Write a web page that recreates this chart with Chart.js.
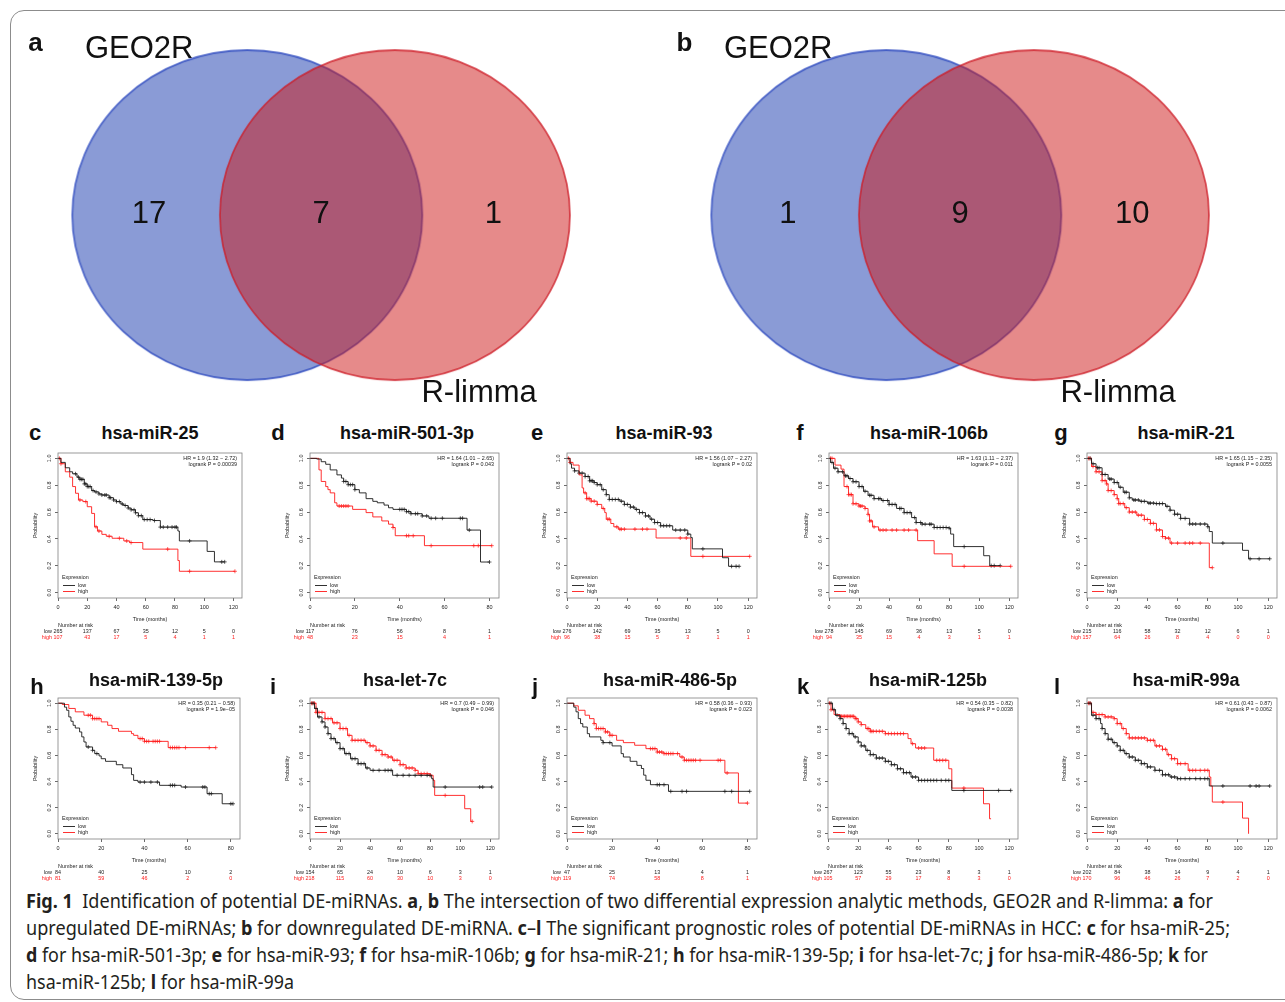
<!DOCTYPE html>
<html>
<head>
<meta charset="utf-8">
<script src="https://cdn.jsdelivr.net/npm/chart.js@4.4.1/dist/chart.umd.min.js"></script>
<style>
  html, body { margin: 0; padding: 0; background: #fff; }
  #page { position: relative; width: 1285px; height: 1002px; overflow: hidden; font-family: "Liberation Sans", Arial, sans-serif; }
  #frame { position: absolute; left: 10px; top: 10px; width: 1320px; height: 990px; border: 1px solid #8c8c8c; border-radius: 14px; box-sizing: border-box; }
  canvas { position: absolute; }
  .txt { position: absolute; font-weight: bold; color: #111; line-height: 1; white-space: nowrap; }
  #cap { position: absolute; left: 26px; top: 887px; font-family: "Noto Sans", sans-serif; font-size: 20px; line-height: 27px; color: #231f20; }
  #cap div { white-space: nowrap; }
  #cap span.ln { display: inline-block; transform-origin: 0 0; }
</style>
</head>
<body>
<div id="page">
  <div id="frame"></div>
  <div id="cap">
    <div><span class="ln"><b>Fig. 1</b>&nbsp; Identification of potential DE-miRNAs. <b>a</b>, <b>b</b> The intersection of two differential expression analytic methods, GEO2R and R-limma: <b>a</b> for</span></div>
    <div><span class="ln">upregulated DE-miRNAs; <b>b</b> for downregulated DE-miRNA. <b>c</b>–<b>l</b> The significant prognostic roles of potential DE-miRNAs in HCC: <b>c</b> for hsa-miR-25;</span></div>
    <div><span class="ln"><b>d</b> for hsa-miR-501-3p; <b>e</b> for hsa-miR-93; <b>f</b> for hsa-miR-106b; <b>g</b> for hsa-miR-21; <b>h</b> for hsa-miR-139-5p; <b>i</b> for hsa-let-7c; <b>j</b> for hsa-miR-486-5p; <b>k</b> for</span></div>
    <div><span class="ln">hsa-miR-125b; <b>l</b> for hsa-miR-99a</span></div>
  </div>
</div>
<script>
// ---- Venn data ----
var vennSets = ['GEO2R', 'R-limma'];
var vennUpCounts = [17, 7, 1];     // GEO2R only, both, R-limma only
var vennDownCounts = [1, 9, 10];

// ---- KM panels ----
var panelLetters = ['c', 'd', 'e', 'f', 'g', 'h', 'i', 'j', 'k', 'l'];
var panelTitles = ['hsa-miR-25', 'hsa-miR-501-3p', 'hsa-miR-93', 'hsa-miR-106b', 'hsa-miR-21',
                   'hsa-miR-139-5p', 'hsa-let-7c', 'hsa-miR-486-5p', 'hsa-miR-125b', 'hsa-miR-99a'];
var hrText = ['HR = 1.9 (1.32 \u2212 2.72)', 'HR = 1.64 (1.01 \u2212 2.65)', 'HR = 1.56 (1.07 \u2212 2.27)',
              'HR = 1.63 (1.11 \u2212 2.37)', 'HR = 1.65 (1.15 \u2212 2.35)', 'HR = 0.35 (0.21 \u2212 0.58)',
              'HR = 0.7 (0.49 \u2212 0.99)', 'HR = 0.58 (0.36 \u2212 0.93)', 'HR = 0.54 (0.35 \u2212 0.82)',
              'HR = 0.61 (0.43 \u2212 0.87)'];
var logrankP = ['0.00039', '0.043', '0.02', '0.011', '0.0055', '1.9e\u221205', '0.046', '0.023', '0.0038', '0.0062'];

var riskTimes120 = [0, 20, 40, 60, 80, 100, 120];
var riskTimes80 = [0, 20, 40, 60, 80];

// survival curves: [time, probability] at each step, last entry = end of follow-up
var cLow = [[0,1],[2,0.97],[5,0.93],[8,0.9],[10,0.885],[13,0.86],[15,0.844],[18,0.81],[20,0.79],[23,0.76],[25,0.75],[28,0.735],[30,0.727],[35,0.707],[38,0.69],[40,0.678],[43,0.66],[45,0.649],[48,0.63],[50,0.617],[53,0.595],[55,0.573],[58,0.544],[65,0.537],[70,0.488],[82,0.459],[83,0.385],[102,0.307],[107,0.229],[114,0.229]];
var cHigh = [[0,1],[2,0.96],[5,0.9],[8,0.86],[10,0.79],[12,0.74],[14,0.69],[17,0.678],[20,0.64],[23,0.59],[25,0.49],[27,0.459],[30,0.434],[33,0.42],[37,0.405],[45,0.385],[49,0.373],[58,0.324],[82,0.239],[83,0.159],[121,0.159]];
var cLowCens = [12,14,15,16,17,18,19,20,21,22,24,26,28,30,32,33,35,36,38,40,42,44,46,48,50,52,53,55,57,59,61,63,66,70,72,75,78,80,81,90,112,114];
var cHighCens = [1,2,15,19,26,28,35,42,47,50,75,90,121];
var cRiskLow = [265,137,67,35,12,5,0];
var cRiskHigh = [107,43,17,5,4,1,1];

var dLow = [[0,1],[3,0.995],[5,0.975],[7,0.956],[9,0.914],[12,0.877],[14,0.853],[15,0.828],[17,0.804],[20,0.767],[22,0.743],[25,0.7],[28,0.68],[30,0.669],[33,0.652],[35,0.632],[37,0.62],[43,0.603],[45,0.588],[50,0.571],[53,0.554],[70,0.466],[76,0.228],[80,0.228]];
var dHigh = [[0,1],[4,0.914],[5,0.828],[7,0.79],[8,0.767],[9,0.743],[11,0.669],[12,0.645],[19,0.62],[25,0.596],[28,0.564],[32,0.534],[35,0.51],[37,0.485],[38,0.424],[51,0.35],[81,0.35]];
var dLowCens = [15,16,17,18,19,20,40,41,42,43,44,45,47,48,50,52,54,56,59,67,68,71,80];
var dHighCens = [13,14,15,16,17,37,43,44,46,54,73,75,81];
var dRiskLow = [117,76,56,8,1];
var dRiskHigh = [48,23,15,4,1];

var eLow = [[0,1],[2,0.96],[3,0.927],[5,0.907],[8,0.89],[12,0.865],[15,0.833],[18,0.82],[20,0.804],[23,0.767],[26,0.73],[28,0.694],[35,0.681],[38,0.657],[42,0.637],[45,0.62],[48,0.596],[52,0.571],[55,0.547],[58,0.522],[62,0.498],[70,0.466],[80,0.436],[82,0.41],[83,0.326],[103,0.26],[107,0.196],[114,0.196]];
var eHigh = [[0,1],[2,0.97],[4,0.95],[8,0.877],[10,0.78],[11,0.743],[13,0.7],[16,0.681],[20,0.657],[23,0.627],[25,0.596],[26,0.547],[29,0.515],[31,0.49],[34,0.473],[59,0.407],[82,0.27],[121,0.27]];
var eLowCens = [5,8,10,12,14,15,16,17,18,20,22,24,26,28,30,32,34,36,38,40,42,44,46,48,50,52,54,56,58,60,62,64,66,68,72,75,78,80,90,109,112,114];
var eHighCens = [1,2,12,13,14,15,16,18,20,24,27,28,33,35,36,38,45,50,53,75,79,90,121];
var eRiskLow = [276,142,69,35,13,5,0];
var eRiskHigh = [96,38,15,5,3,1,1];

var fLow = [[0,1],[1,0.97],[3,0.927],[6,0.9],[10,0.87],[13,0.85],[16,0.826],[20,0.79],[23,0.755],[26,0.725],[30,0.7],[35,0.686],[40,0.657],[45,0.627],[50,0.596],[55,0.559],[58,0.522],[62,0.51],[70,0.485],[80,0.48],[81,0.436],[83,0.343],[103,0.275],[107,0.201],[114,0.201]];
var fHigh = [[0,1],[4,0.95],[8,0.92],[10,0.79],[13,0.73],[16,0.662],[20,0.645],[24,0.627],[26,0.583],[27,0.534],[29,0.49],[33,0.466],[59,0.387],[70,0.289],[82,0.196],[121,0.196]];
var fLowCens = [2,4,6,9,11,12,14,16,18,20,22,24,27,28,30,33,34,36,39,40,42,44,47,48,50,52,54,57,58,61,62,64,67,68,70,72,74,76,78,80,90,108,110,114];
var fHighCens = [1,2,12,13,14,15,16,18,20,21,22,24,26,27,28,30,34,36,38,42,45,50,53,58,90,121];
var fRiskLow = [278,145,69,36,13,5,0];
var fRiskHigh = [94,35,15,4,3,1,1];

var gLow = [[0,1],[3,0.96],[6,0.93],[10,0.88],[14,0.846],[18,0.82],[21,0.785],[24,0.748],[28,0.706],[30,0.69],[35,0.68],[40,0.667],[45,0.663],[52,0.643],[55,0.614],[58,0.584],[62,0.553],[68,0.511],[80,0.491],[81,0.455],[83,0.369],[103,0.315],[107,0.252],[121,0.252]];
var gHigh = [[0,1],[3,0.94],[6,0.9],[10,0.834],[13,0.81],[14,0.76],[18,0.73],[20,0.7],[21,0.663],[25,0.633],[28,0.6],[33,0.577],[38,0.545],[42,0.516],[46,0.467],[50,0.418],[52,0.406],[55,0.369],[81,0.186],[83,0.186]];
var gLowCens = [2,4,7,8,10,12,15,16,18,20,22,25,26,28,31,32,34,36,38,41,42,44,46,48,50,53,55,58,60,62,65,68,70,72,75,78,80,90,108,114,121];
var gHighCens = [1,2,4,6,8,10,12,13,14,16,18,20,21,22,24,26,28,30,32,34,36,38,40,42,44,46,48,50,52,54,56,60,65,68,70,75,83];
var gRiskLow = [215,116,58,32,12,6,1];
var gRiskHigh = [157,64,26,8,4,0,0];

var hLow = [[0,1],[3,0.97],[4,0.946],[5,0.895],[6,0.862],[7,0.831],[8,0.81],[10,0.78],[11,0.742],[12,0.703],[13,0.665],[16,0.639],[17,0.614],[19,0.596],[20,0.575],[22,0.555],[27,0.529],[30,0.504],[34,0.453],[35,0.409],[37,0.396],[47,0.371],[57,0.358],[69,0.307],[76,0.23],[81,0.23]];
var hHigh = [[0,1],[2,0.99],[5,0.96],[8,0.934],[12,0.908],[16,0.882],[20,0.857],[23,0.831],[25,0.806],[28,0.785],[34,0.767],[35,0.754],[37,0.729],[40,0.708],[51,0.66],[73,0.66]];
var hLowCens = [14,16,18,38,40,43,46,52,53,54,59,67,68,70,71,80,81];
var hHighCens = [14,15,16,17,18,19,38,39,40,41,42,44,45,46,47,52,53,54,55,56,59,70,73];
var hRiskLow = [84,40,25,10,2];
var hRiskHigh = [81,59,46,2,0];

var iLow = [[0,1],[3,0.96],[5,0.895],[8,0.857],[10,0.818],[12,0.767],[14,0.729],[17,0.698],[20,0.652],[23,0.614],[27,0.575],[32,0.537],[37,0.504],[40,0.486],[55,0.448],[81,0.422],[82,0.358],[121,0.358]];
var iHigh = [[0,1],[4,0.93],[10,0.882],[15,0.85],[20,0.806],[25,0.754],[28,0.716],[37,0.698],[40,0.673],[44,0.639],[48,0.606],[52,0.588],[55,0.563],[60,0.529],[64,0.504],[70,0.486],[72,0.46],[80,0.448],[82,0.409],[83,0.294],[103,0.192],[107,0.095],[108,0.095]];
var iLowCens = [2,4,6,8,10,12,14,16,18,20,22,24,26,28,30,32,34,36,38,42,46,50,52,54,58,62,66,70,74,78,80,90,113,115,121];
var iHighCens = [1,2,3,4,5,6,8,10,12,14,16,18,20,22,24,26,28,30,32,34,36,38,40,42,44,46,48,50,52,54,56,58,60,62,64,66,68,70,72,74,76,78,80,90,108];
var iRiskLow = [154,65,24,10,6,3,1];
var iRiskHigh = [218,115,60,30,10,3,0];

var jLow = [[0,1],[3,0.97],[4,0.934],[5,0.882],[6,0.844],[7,0.818],[9,0.767],[10,0.742],[15,0.716],[16,0.698],[20,0.673],[24,0.614],[25,0.588],[28,0.555],[31,0.524],[33,0.5],[34,0.449],[35,0.41],[37,0.376],[45,0.325],[81,0.325]];
var jHigh = [[0,1],[3,0.98],[5,0.946],[8,0.908],[10,0.882],[12,0.844],[13,0.806],[17,0.78],[19,0.754],[22,0.716],[25,0.698],[30,0.678],[35,0.652],[40,0.626],[43,0.614],[50,0.588],[52,0.563],[70,0.466],[76,0.235],[80,0.235]];
var jLowCens = [16,19,40,41,43,46,51,53,70,73,81];
var jHighCens = [12,13,14,15,16,17,18,19,20,37,38,39,40,41,42,43,44,45,46,47,49,51,52,53,54,55,56,57,59,67,68,71,80];
var jRiskLow = [47,25,13,4,1];
var jRiskHigh = [119,74,58,8,1];

var kLow = [[0,1],[3,0.95],[5,0.908],[8,0.882],[10,0.844],[12,0.806],[14,0.767],[17,0.742],[20,0.703],[22,0.673],[25,0.639],[28,0.606],[32,0.58],[38,0.555],[42,0.529],[46,0.498],[50,0.468],[55,0.435],[60,0.409],[82,0.332],[121,0.332]];
var kHigh = [[0,1],[2,0.95],[4,0.913],[8,0.9],[18,0.882],[20,0.857],[22,0.836],[25,0.806],[28,0.785],[38,0.767],[53,0.729],[55,0.69],[58,0.657],[70,0.563],[80,0.498],[82,0.35],[103,0.23],[107,0.115],[108,0.115]];
var kLowCens = [2,4,6,8,10,12,14,16,18,20,22,24,26,28,30,32,34,36,38,40,42,44,46,48,50,52,54,56,58,60,62,64,66,68,70,72,75,78,80,90,113,121];
var kHighCens = [1,2,8,9,10,11,12,13,14,15,16,17,18,19,20,22,26,27,28,29,30,32,34,36,38,40,42,44,46,48,50,56,60,62,64,72,74,76,78,90];
var kRiskLow = [267,123,55,23,8,3,1];
var kRiskHigh = [105,57,29,17,8,3,0];

var lLow = [[0,1],[3,0.908],[6,0.882],[9,0.844],[10,0.806],[12,0.767],[14,0.724],[17,0.698],[20,0.673],[22,0.639],[25,0.614],[28,0.588],[32,0.563],[36,0.537],[40,0.512],[45,0.486],[50,0.452],[55,0.435],[60,0.422],[81,0.366],[121,0.366]];
var lHigh = [[0,1],[3,0.93],[6,0.913],[12,0.895],[18,0.882],[20,0.844],[23,0.806],[26,0.767],[28,0.734],[40,0.716],[45,0.673],[50,0.647],[53,0.606],[56,0.575],[60,0.537],[67,0.486],[81,0.435],[82,0.366],[83,0.243],[103,0.12],[107,0]];
var lLowCens = [2,4,6,8,10,12,14,16,18,20,22,24,26,28,30,32,34,36,38,40,42,45,48,50,52,54,56,58,60,62,65,68,72,75,78,80,90,108,112,114,121];
var lHighCens = [1,2,4,6,8,10,12,14,16,18,20,22,24,26,28,30,32,34,36,38,40,42,44,46,48,50,52,54,56,58,60,62,65,68,70,72,75,78,80,90];
var lRiskLow = [202,84,38,14,9,4,1];
var lRiskHigh = [170,96,46,26,7,2,0];

// ---- layout (page pixels) ----
var FONT = '"Liberation Sans", Arial, sans-serif';
Chart.defaults.font.family = FONT;
var RED = '#ff1a1a', BLACK = '#1a1a1a';
var page = document.getElementById('page');

// plot boxes [left, right, top, bottom]
var boxes = [[58,242,453,598],[310,499,453,598],[567,757,453,598],[829,1018,453,598],[1087,1277,453,598],
             [58,240,698,839],[310,499,698,839],[567,757,698,839],[828,1018,698,839],[1087,1277,698,839]];
var letterX = [35, 278, 537, 800, 1061, 37, 273, 535, 803, 1057];
var titleX = [150, 407, 664, 929, 1186, 156, 405, 670, 928, 1186];

function addText(txt, cx, baseline, size) {
  var d = document.createElement('div');
  d.className = 'txt';
  d.textContent = txt;
  d.style.fontSize = size + 'px';
  d.style.left = (cx - 150) + 'px';
  d.style.width = '300px';
  d.style.textAlign = 'center';
  d.style.top = (baseline - 0.8465 * size) + 'px';
  page.appendChild(d);
}

function survAt(curve, t) {
  var s = curve[0][1];
  for (var i = 0; i < curve.length; i++) if (curve[i][0] <= t) s = curve[i][1];
  return s;
}

// ---- Venn ----
function ellipseSprite(rx, ry, fill, stroke) {
  var c = document.createElement('canvas');
  c.width = 2 * rx + 4; c.height = 2 * ry + 4;
  var g = c.getContext('2d');
  g.beginPath();
  g.ellipse(rx + 2, ry + 2, rx, ry, 0, 0, Math.PI * 2);
  g.fillStyle = fill; g.fill();
  g.lineWidth = 1.8; g.strokeStyle = stroke; g.stroke();
  return c;
}

var vennText = {
  id: 'vennText',
  afterDatasetsDraw: function(chart, args, o) {
    var ctx = chart.ctx, x = chart.scales.x, y = chart.scales.y, g = o.geo;
    ctx.save();
    ctx.fillStyle = '#111';
    ctx.font = '31px ' + FONT;
    ctx.textAlign = 'center';
    ctx.textBaseline = 'alphabetic';
    var xs = [(g.cx1 - g.rx + g.cx2 - g.rx) / 2, (g.cx2 - g.rx + g.cx1 + g.rx) / 2, (g.cx1 + g.rx + g.cx2 + g.rx) / 2];
    o.counts.forEach(function(n, i) {
      ctx.fillText(String(n), x.getPixelForValue(xs[i]), y.getPixelForValue(g.cy + 8));
    });
    ctx.textAlign = 'left';
    ctx.fillText(vennSets[0], x.getPixelForValue(g.cx1 - g.rx + 10), y.getPixelForValue(g.cy - 161));
    ctx.fillText(vennSets[1], x.getPixelForValue(g.cx2 + 27), y.getPixelForValue(g.cy + 192));
    ctx.restore();
  }
};

function makeVenn(counts, left, top, w, h, geo) {
  var cv = document.createElement('canvas');
  cv.width = w; cv.height = h;
  cv.style.left = left + 'px'; cv.style.top = top + 'px';
  page.appendChild(cv);
  var blue = ellipseSprite(geo.rx, geo.ry, 'rgba(21,55,173,0.5)', 'rgba(40,70,190,0.75)');
  var red = ellipseSprite(geo.rx, geo.ry, 'rgba(205,21,21,0.5)', 'rgba(205,30,40,0.75)');
  new Chart(cv, {
    type: 'scatter',
    data: { datasets: [
      { label: vennSets[1], data: [{ x: geo.cx2, y: geo.cy }], pointStyle: red, pointRadius: 1, clip: false },
      { label: vennSets[0], data: [{ x: geo.cx1, y: geo.cy }], pointStyle: blue, pointRadius: 1, clip: false }
    ]},
    options: {
      animation: false, responsive: false, events: [],
      layout: { padding: 0 },
      plugins: { legend: { display: false }, tooltip: { enabled: false }, vennText: { counts: counts, geo: geo } },
      scales: {
        x: { type: 'linear', display: false, min: 0, max: w },
        y: { type: 'linear', display: false, min: 0, max: h, reverse: true }
      }
    },
    plugins: [vennText]
  });
}

makeVenn(vennUpCounts, 15, 20, 625, 395, { cx1: 231, cx2: 381, cy: 195, rx: 175, ry: 165 });
makeVenn(vennDownCounts, 650, 20, 630, 395, { cx1: 235, cx2: 385, cy: 195, rx: 175, ry: 165 });
addText('a', 35.5, 51, 26);
addText('b', 684.5, 51, 26);

// ---- KM plots ----
var kmDecor = {
  id: 'kmDecor',
  afterDraw: function(chart, args, o) {
    var ctx = chart.ctx, a = chart.chartArea, x = chart.scales.x;
    ctx.save();
    ctx.strokeStyle = '#808080';
    ctx.lineWidth = 0.8;
    ctx.strokeRect(a.left, a.top, a.right - a.left, a.bottom - a.top);
    ctx.font = '5.4px ' + FONT;
    ctx.fillStyle = '#222';
    ctx.textBaseline = 'middle';
    // HR / logrank
    ctx.textAlign = 'right';
    ctx.fillText(o.hr, a.right - 5, a.top + 5.5);
    ctx.fillText('logrank P = ' + o.p, a.right - 5, a.top + 11.5);
    // legend
    ctx.textAlign = 'left';
    ctx.fillText('Expression', a.left + 4, a.bottom - 20.5);
    [['low', BLACK, 12.5], ['high', RED, 6.5]].forEach(function(r) {
      ctx.strokeStyle = r[1];
      ctx.lineWidth = 0.9;
      ctx.beginPath();
      ctx.moveTo(a.left + 5, a.bottom - r[2]);
      ctx.lineTo(a.left + 17, a.bottom - r[2]);
      ctx.stroke();
      ctx.fillStyle = '#222';
      ctx.fillText(r[0], a.left + 20, a.bottom - r[2]);
    });
    // axis titles
    ctx.textAlign = 'center';
    ctx.fillText('Time (months)', (a.left + a.right) / 2, a.bottom + 22);
    ctx.save();
    ctx.translate(a.left - 22, (a.top + a.bottom) / 2);
    ctx.rotate(-Math.PI / 2);
    ctx.fillText('Probability', 0, 0);
    ctx.restore();
    // number at risk
    ctx.textAlign = 'left';
    ctx.fillText('Number at risk', a.left, a.bottom + 28);
    ctx.textAlign = 'right';
    ctx.fillStyle = '#222';
    ctx.fillText('low', a.left - 6, a.bottom + 34);
    ctx.fillStyle = RED;
    ctx.fillText('high', a.left - 6, a.bottom + 40);
    ctx.textAlign = 'center';
    o.times.forEach(function(t, i) {
      var px = x.getPixelForValue(t);
      ctx.fillStyle = '#222';
      ctx.fillText(String(o.riskLow[i]), px, a.bottom + 34);
      ctx.fillStyle = RED;
      ctx.fillText(String(o.riskHigh[i]), px, a.bottom + 40);
    });
    ctx.restore();
  }
};

var panels = [
  { low: cLow, high: cHigh, lowCens: cLowCens, highCens: cHighCens, riskLow: cRiskLow, riskHigh: cRiskHigh, times: riskTimes120 },
  { low: dLow, high: dHigh, lowCens: dLowCens, highCens: dHighCens, riskLow: dRiskLow, riskHigh: dRiskHigh, times: riskTimes80 },
  { low: eLow, high: eHigh, lowCens: eLowCens, highCens: eHighCens, riskLow: eRiskLow, riskHigh: eRiskHigh, times: riskTimes120 },
  { low: fLow, high: fHigh, lowCens: fLowCens, highCens: fHighCens, riskLow: fRiskLow, riskHigh: fRiskHigh, times: riskTimes120 },
  { low: gLow, high: gHigh, lowCens: gLowCens, highCens: gHighCens, riskLow: gRiskLow, riskHigh: gRiskHigh, times: riskTimes120 },
  { low: hLow, high: hHigh, lowCens: hLowCens, highCens: hHighCens, riskLow: hRiskLow, riskHigh: hRiskHigh, times: riskTimes80 },
  { low: iLow, high: iHigh, lowCens: iLowCens, highCens: iHighCens, riskLow: iRiskLow, riskHigh: iRiskHigh, times: riskTimes120 },
  { low: jLow, high: jHigh, lowCens: jLowCens, highCens: jHighCens, riskLow: jRiskLow, riskHigh: jRiskHigh, times: riskTimes80 },
  { low: kLow, high: kHigh, lowCens: kLowCens, highCens: kHighCens, riskLow: kRiskLow, riskHigh: kRiskHigh, times: riskTimes120 },
  { low: lLow, high: lHigh, lowCens: lLowCens, highCens: lHighCens, riskLow: lRiskLow, riskHigh: lRiskHigh, times: riskTimes120 }
];

function makeKM(p, idx) {
  var L = boxes[idx][0], R = boxes[idx][1], T = boxes[idx][2], B = boxes[idx][3];
  var cv = document.createElement('canvas');
  cv.width = R - L + 40; cv.height = B - T + 58;
  cv.style.left = (L - 34) + 'px'; cv.style.top = (T - 6) + 'px';
  page.appendChild(cv);

  var tEnd = Math.max(p.low[p.low.length - 1][0], p.high[p.high.length - 1][0]);
  var pts = function(c) { return c.map(function(d) { return { x: d[0], y: d[1] }; }); };
  var cens = function(c, ts) { return ts.map(function(t) { return { x: t, y: survAt(c, t) }; }); };
  var tickFont = { size: 5.5, family: FONT };

  new Chart(cv, {
    type: 'scatter',
    data: { datasets: [
      { label: 'low', data: pts(p.low), showLine: true, stepped: 'before', borderColor: BLACK, borderWidth: 0.9, pointRadius: 0, fill: false },
      { label: 'high', data: pts(p.high), showLine: true, stepped: 'before', borderColor: RED, borderWidth: 0.9, pointRadius: 0, fill: false },
      { label: 'low censored', data: cens(p.low, p.lowCens), showLine: false, pointStyle: 'cross', pointRadius: 2, borderColor: BLACK, borderWidth: 0.7 },
      { label: 'high censored', data: cens(p.high, p.highCens), showLine: false, pointStyle: 'cross', pointRadius: 2, borderColor: RED, borderWidth: 0.7 }
    ]},
    options: {
      animation: false, responsive: false, events: [],
      layout: { padding: { left: 0, top: 6, right: 6, bottom: 0 } },
      plugins: {
        legend: { display: false }, tooltip: { enabled: false },
        kmDecor: { hr: hrText[idx], p: logrankP[idx], riskLow: p.riskLow, riskHigh: p.riskHigh, times: p.times }
      },
      scales: {
        x: {
          type: 'linear', min: 0, max: tEnd * 1.04,
          afterFit: function(s) { s.height = 52; },
          border: { display: false },
          grid: { display: true, drawOnChartArea: false, drawTicks: true, tickLength: 3, color: '#444', lineWidth: 0.8 },
          ticks: { stepSize: 20, includeBounds: false, autoSkip: false, maxRotation: 0, padding: 3, color: '#222', font: tickFont }
        },
        y: {
          type: 'linear', min: -0.04, max: 1.04,
          afterFit: function(s) { s.width = 34; },
          border: { display: false },
          grid: { display: true, drawOnChartArea: false, drawTicks: true, tickLength: 3, color: '#444', lineWidth: 0.8 },
          ticks: { stepSize: 0.2, includeBounds: false, minRotation: 90, maxRotation: 90, crossAlign: 'center', padding: 2,
                   color: '#222', font: tickFont, callback: function(v) { return v.toFixed(1); } }
        }
      }
    },
    plugins: [kmDecor]
  });

  var row = idx < 5 ? 0 : 1;
  addText(panelLetters[idx], letterX[idx], row === 0 ? 441 : 695, 22);
  addText(panelTitles[idx], titleX[idx], row === 0 ? 439 : 686, 18);
}

panels.forEach(makeKM);

// ---- caption: fit each line to the measured width of the original ----
var capWidths = [1187, 1204, 1182, 268];
document.fonts.ready.then(function() {
  var lines = document.querySelectorAll('#cap span.ln');
  lines.forEach(function(el, i) {
    var w = el.getBoundingClientRect().width;
    el.style.transform = 'scaleX(' + (capWidths[i] / w) + ')';
  });
});
</script>
</body>
</html>
